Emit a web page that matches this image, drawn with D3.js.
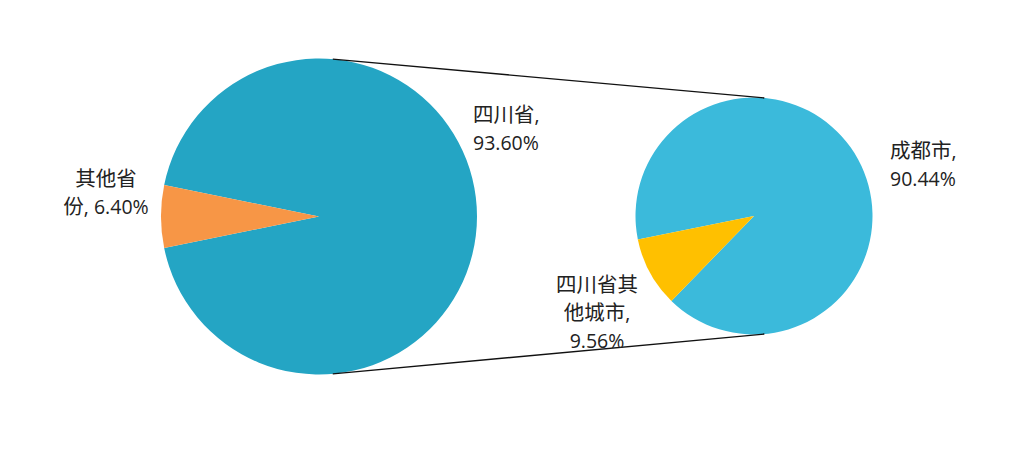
<!DOCTYPE html>
<html><head><meta charset="utf-8">
<script src="https://cdn.jsdelivr.net/npm/d3@7"></script>
<style>body{margin:0;background:#fff}svg{display:block}text{font-family:"Open Sans","Noto Sans CJK SC",sans-serif;fill:#222}.cjk{font-family:"Noto Sans CJK SC",sans-serif}</style>
</head><body><svg id="c" width="1024" height="469"></svg>
<script>
const mainCategories = ["四川省", "其他省份"];
const mainValues = [93.60, 6.40];
const subCategories = ["成都市", "四川省其他城市"];
const subValues = [90.44, 9.56];
const mainColors = ["#24A5C4", "#F79646"];
const subColors = ["#3BBADB", "#FFC000"];

const svg = d3.select("#c");
const deg = Math.PI / 180;

const L = {cx: 319, cy: 216.5, r: 158};
const R = {cx: 754, cy: 216, r: 118.5};

const totalM = d3.sum(mainValues);
const orangeSpan = mainValues[1] / totalM * 2 * Math.PI;
const startL = 1.5 * Math.PI + orangeSpan / 2 - 2 * Math.PI;
const pieL = d3.pie().sort(null).value(d => d).startAngle(startL).endAngle(startL + 2 * Math.PI);
const arcL = d3.arc().innerRadius(0).outerRadius(L.r);
svg.append("g").attr("transform", `translate(${L.cx},${L.cy})`)
  .selectAll("path").data(pieL(mainValues)).join("path")
  .attr("d", arcL).attr("fill", (d, i) => mainColors[i]);

const yellowEnd = 1.5 * Math.PI - 11.4 * deg;
const startR = yellowEnd - 2 * Math.PI;
const pieR = d3.pie().sort(null).value(d => d).startAngle(startR).endAngle(startR + 2 * Math.PI);
const arcR = d3.arc().innerRadius(0).outerRadius(R.r);
svg.append("g").attr("transform", `translate(${R.cx},${R.cy})`)
  .selectAll("path").data(pieR(subValues)).join("path")
  .attr("d", arcR).attr("fill", (d, i) => subColors[i]);

function pt(c, a) { return [c.cx + c.r * Math.sin(a), c.cy - c.r * Math.cos(a)]; }
const a1 = 5 * deg, a2 = 175 * deg;
[[pt(L, a1), pt(R, a1)], [pt(L, a2), pt(R, a2)]].forEach(([p, q]) => {
  svg.append("line").attr("x1", p[0]).attr("y1", p[1]).attr("x2", q[0]).attr("y2", q[1])
    .attr("stroke", "#111").attr("stroke-width", 1.4);
});

const labels = [
  {lines: ["四川省,", mainValues[0].toFixed(2) + "%"], x: 473, y: 122, anchor: "start"},
  {lines: ["其他省", "份, " + mainValues[1].toFixed(2) + "%"], x: 106, y: 186, anchor: "middle"},
  {lines: ["成都市,", subValues[0].toFixed(2) + "%"], x: 890, y: 158, anchor: "start"},
  {lines: ["四川省其", "他城市,", subValues[1].toFixed(2) + "%"], x: 597, y: 292, anchor: "middle"}
];
labels.forEach(l => {
  const t = svg.append("text").attr("y", l.y).attr("text-anchor", l.anchor)
    .style("font-size", "19.5px");
  l.lines.forEach((s, i) => {
    const runs = s.match(/[\u4e00-\u9fff]+|[^\u4e00-\u9fff]+/g);
    runs.forEach((r, j) => {
      const sp = t.append("tspan").text(r);
      if (j === 0) sp.attr("x", l.x).attr("dy", i === 0 ? 0 : 28);
      if (/[\u4e00-\u9fff]/.test(r)) sp.attr("class", "cjk").style("font-size", "20.5px");
    });
  });
});
</script></body></html>
